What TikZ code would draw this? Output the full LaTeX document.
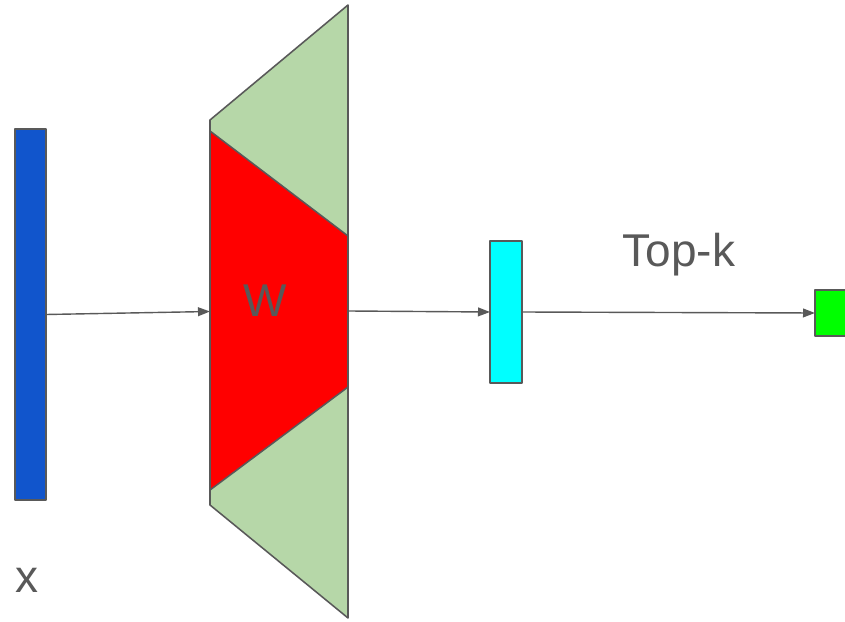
\documentclass[tikz,border=0pt]{standalone}
\usepackage{fontspec}
\setmainfont{Liberation Sans}
\usetikzlibrary{arrows.meta}
\definecolor{linegray}{HTML}{595959}
\definecolor{vecblue}{HTML}{1155CC}
\definecolor{sagegreen}{HTML}{B6D7A8}
\definecolor{hidcyan}{HTML}{00FFFF}
\definecolor{outgreen}{HTML}{00FF00}
\definecolor{wred}{HTML}{FF0000}
\begin{document}
\begin{tikzpicture}[x=0.025cm, y=-0.025cm, line join=round,
    vecbox/.style={draw=linegray, line width=1.1pt, inner sep=0pt, outer sep=0pt},
    flow/.style={draw=linegray, line width=1pt, -{Triangle[length=0.3cm, width=0.22cm]}},
    lbl/.style={text=linegray, font=\fontsize{32.7}{39}\selectfont, inner sep=0pt, anchor=base}]
  \useasboundingbox (0,0) rectangle (845,622);
  % input vector
  \node[vecbox, fill=vecblue, minimum width=0.775cm, minimum height=9.275cm] (xvec) at (30.5,314.5) {};
  \node[lbl] (xlbl) at (27,592) {x};
  % weight matrix: green trapezoid with the red band
  \draw[draw=linegray, line width=1.1pt, fill=sagegreen] (210,120) -- (348,5) -- (348,618) -- (210,505) -- cycle;
  \draw[draw=linegray, line width=1.1pt, fill=wred] (210,131) -- (348,236) -- (348,387) -- (210,490) -- cycle;
  \coordinate (wl) at (210,311.5);
  \coordinate (wr) at (349,311);
  \node[lbl] (wlbl) at (265,316) {W};
  % hidden and output
  \node[vecbox, fill=hidcyan, minimum width=0.8cm, minimum height=3.55cm] (hid) at (506,312) {};
  \node[vecbox, fill=outgreen, minimum width=0.875cm, minimum height=1.15cm] (out) at (832.5,313) {};
  \node[lbl] (topk) at (679,267) {Top-k};
  % arrows
  \draw[flow] (xvec.east) -- (wl);
  \draw[flow] (wr) -- (hid.west);
  \draw[flow] (hid.east) -- (out.west);
\end{tikzpicture}
\end{document}
